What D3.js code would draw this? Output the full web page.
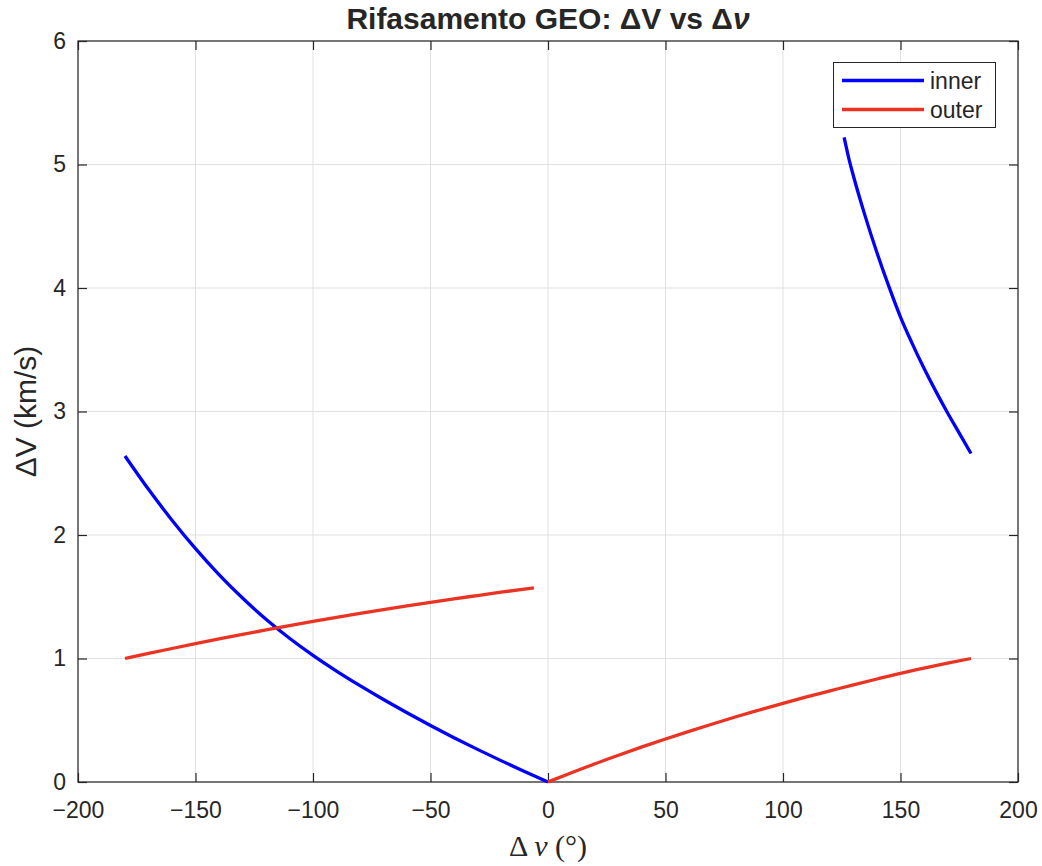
<!DOCTYPE html>
<html>
<head>
<meta charset="utf-8">
<script src="https://cdn.jsdelivr.net/npm/d3@7"></script>
<style>
  body { margin: 0; background: #fff; }
  svg { display: block; }
  text { font-family: "Liberation Sans", Arial, Helvetica, sans-serif; fill: #262626; }
</style>
</head>
<body>
<svg id="chart" width="1042" height="866"></svg>
<script>
// Axis ticks
const xTicks = [-200, -150, -100, -50, 0, 50, 100, 150, 200];
const yTicks = [0, 1, 2, 3, 4, 5, 6];

// Inner phasing orbit, negative phase angles (deg) and ΔV (km/s)
const innerLeftNu = [-180, -170, -160, -150, -140, -130, -120, -110, -100, -90, -80, -70, -60, -50, -40, -30, -20, -10, 0];
const innerLeftDV = [2.64, 2.37, 2.12, 1.89, 1.68, 1.49, 1.318, 1.164, 1.025, 0.898, 0.78, 0.668, 0.561, 0.458, 0.359, 0.264, 0.173, 0.085, 0];

// Inner phasing orbit, positive phase angles
const innerRightNu = [126, 128, 130, 135, 140, 145, 150, 155, 160, 165, 170, 175, 180];
const innerRightDV = [5.22, 5.05, 4.905, 4.58, 4.285, 4.015, 3.765, 3.55, 3.35, 3.165, 2.99, 2.825, 2.66];

// Outer phasing orbit, negative phase angles
const outerLeftNu = [-180, -170, -160, -150, -140, -130, -120, -110, -100, -90, -80, -70, -60, -50, -40, -30, -20, -10, -6];
const outerLeftDV = [1.000, 1.041, 1.081, 1.120, 1.158, 1.195, 1.231, 1.266, 1.300, 1.333, 1.365, 1.396, 1.426, 1.455, 1.483, 1.510, 1.537, 1.562, 1.571];

// Outer phasing orbit, positive phase angles
const outerRightNu = [0, 10, 20, 30, 40, 50, 60, 70, 80, 90, 100, 110, 120, 130, 140, 150, 160, 170, 180];
const outerRightDV = [0, 0.075, 0.148, 0.217, 0.284, 0.348, 0.410, 0.470, 0.528, 0.583, 0.637, 0.689, 0.738, 0.787, 0.834, 0.880, 0.922, 0.962, 1.000];

const seriesNames = ["inner", "outer"];
const seriesColors = ["#0000ff", "#eb3323"];

const svg = d3.select("#chart");
const x = d3.scaleLinear().domain([-200, 200]).range([78, 1018]);
const y = d3.scaleLinear().domain([0, 6]).range([782, 41]);

const axisColor = "#262626";
const tickFont = 23;

// Grid
const grid = svg.append("g");
grid.selectAll("line.gx").data(xTicks).join("line")
  .attr("x1", d => x(d)).attr("x2", d => x(d))
  .attr("y1", y(6)).attr("y2", y(0))
  .attr("stroke", "#e1e1e1").attr("stroke-width", 1);
grid.selectAll("line.gy").data(yTicks).join("line")
  .attr("x1", x(-200)).attr("x2", x(200))
  .attr("y1", d => y(d)).attr("y2", d => y(d))
  .attr("stroke", "#e1e1e1").attr("stroke-width", 1);

function styleAxis(g) {
  g.select(".domain").remove();
  g.selectAll(".tick line").attr("stroke", axisColor).attr("stroke-width", 1.2);
  g.selectAll(".tick text").attr("font-size", tickFont).attr("font-family", "Liberation Sans, Arial, sans-serif").attr("fill", axisColor);
}

svg.append("g").attr("transform", `translate(0,${y(0)})`)
  .call(d3.axisBottom(x).tickValues(xTicks).tickSizeInner(-9).tickSizeOuter(0).tickPadding(20).tickFormat(d3.format("d")))
  .call(styleAxis);
svg.append("g").attr("transform", `translate(0,${y(6)})`)
  .call(d3.axisTop(x).tickValues(xTicks).tickSizeInner(-9).tickSizeOuter(0).tickFormat(""))
  .call(styleAxis);
svg.append("g").attr("transform", `translate(${x(-200)},0)`)
  .call(d3.axisLeft(y).tickValues(yTicks).tickSizeInner(-9).tickSizeOuter(0).tickPadding(12).tickFormat(d3.format("d")))
  .call(styleAxis);
svg.append("g").attr("transform", `translate(${x(200)},0)`)
  .call(d3.axisRight(y).tickValues(yTicks).tickSizeInner(-9).tickSizeOuter(0).tickFormat(""))
  .call(styleAxis);

// Frame
svg.append("rect")
  .attr("x", x(-200)).attr("y", y(6))
  .attr("width", x(200) - x(-200)).attr("height", y(0) - y(6))
  .attr("fill", "none").attr("stroke", axisColor).attr("stroke-width", 1.2);

// Curves
const line = d3.line().x(d => x(d[0])).y(d => y(d[1])).curve(d3.curveMonotoneX);
const curves = [
  { nu: innerLeftNu, dv: innerLeftDV, s: 0 },
  { nu: innerRightNu, dv: innerRightDV, s: 0 },
  { nu: outerLeftNu, dv: outerLeftDV, s: 1 },
  { nu: outerRightNu, dv: outerRightDV, s: 1 }
];
svg.append("g").selectAll("path").data(curves).join("path")
  .attr("d", c => line(d3.zip(c.nu, c.dv)))
  .attr("fill", "none")
  .attr("stroke", c => seriesColors[c.s])
  .attr("stroke-width", 3.3)
  .attr("stroke-linejoin", "round");

// Title
const title = svg.append("text")
  .attr("x", x(0)).attr("y", 29)
  .attr("text-anchor", "middle")
  .attr("font-size", 30).attr("font-weight", "bold");
title.append("tspan").text("Rifasamento GEO: ΔV vs Δ");
title.append("tspan").attr("font-style", "italic").text("ν");

// Y label
svg.append("text")
  .attr("transform", `translate(35.5,${(y(0) + y(6)) / 2}) rotate(-90)`)
  .attr("text-anchor", "middle")
  .attr("font-size", 30)
  .text("ΔV (km/s)");

// X label
const xl = svg.append("text")
  .attr("x", x(0)).attr("y", 856)
  .attr("text-anchor", "middle")
  .attr("font-size", 30)
  .style("font-family", "'Liberation Serif', 'Times New Roman', serif");
xl.append("tspan").text("Δ ");
xl.append("tspan").attr("font-style", "italic").text("ν");
xl.append("tspan").text(" (°)");

// Legend
const lg = svg.append("g");
lg.append("rect")
  .attr("x", 833.5).attr("y", 62.5).attr("width", 162).attr("height", 65)
  .attr("fill", "#fff").attr("stroke", axisColor).attr("stroke-width", 1);
const items = lg.selectAll("g.item").data(seriesNames).join("g")
  .attr("transform", (d, i) => `translate(0,${80.5 + i * 29})`);
items.append("line")
  .attr("x1", 842).attr("x2", 924).attr("y1", 0).attr("y2", 0)
  .attr("stroke", (d, i) => seriesColors[i]).attr("stroke-width", 3.3);
items.append("text")
  .attr("x", 930).attr("y", 0).attr("dy", "0.35em")
  .attr("font-size", 23)
  .text(d => d);
</script>
</body>
</html>
